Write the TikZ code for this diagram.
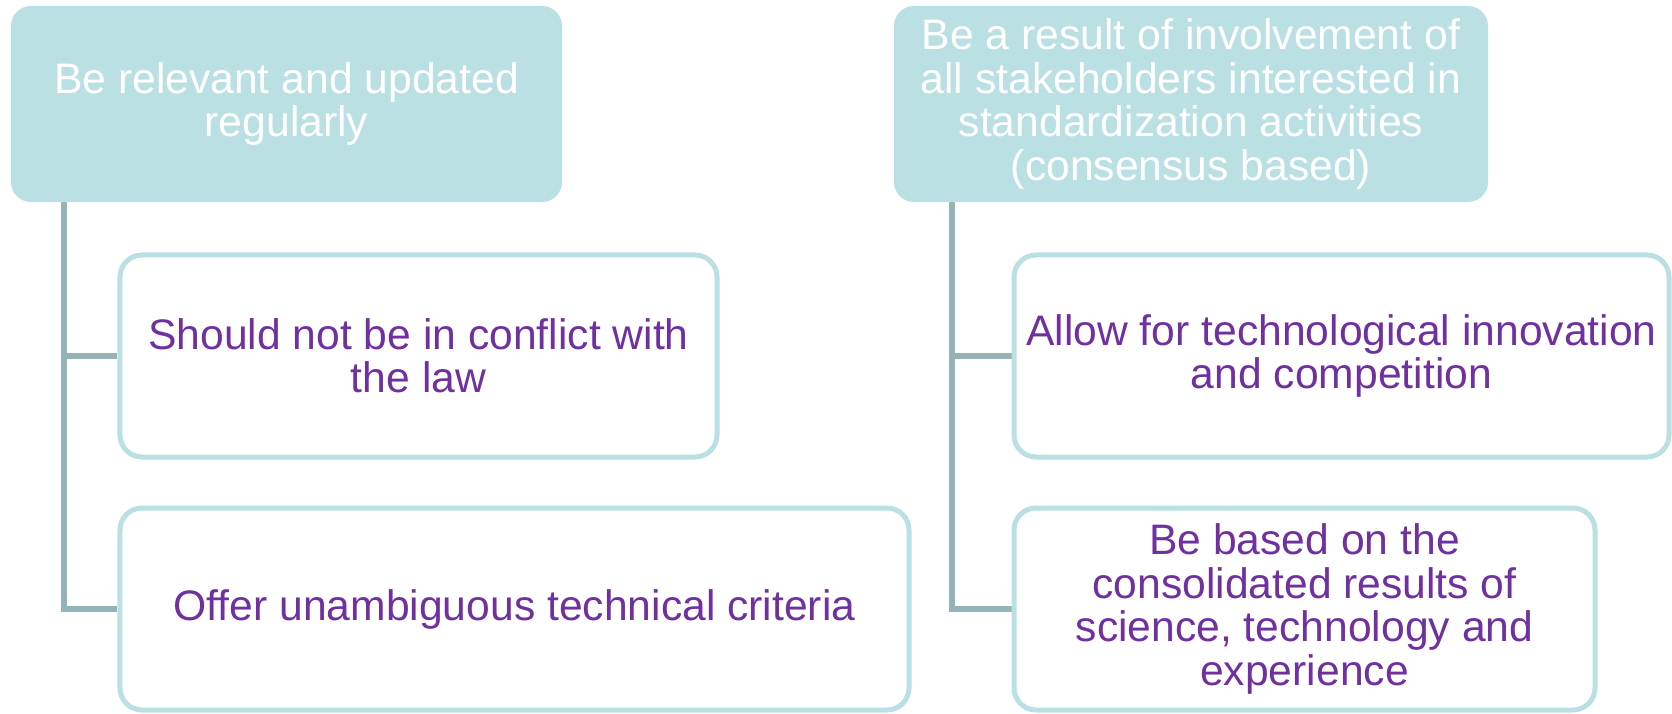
\documentclass[tikz,border=0pt]{standalone}
\usepackage{fontspec}
\setmainfont{Liberation Sans}
\usetikzlibrary{backgrounds}
\definecolor{topfill}{HTML}{BBE0E3}
\definecolor{childline}{HTML}{BBE0E3}
\definecolor{conncol}{HTML}{93B3B6}
\definecolor{txtpurple}{HTML}{7030A0}
\begin{document}
\begin{tikzpicture}[x=0.5bp,y=-0.5bp,
  boxfont/.style={font=\fontsize{21.4}{21.8}\selectfont},
  topbox/.style={rectangle, rounded corners=10bp, fill=topfill, draw=none,
    text=white, align=center, inner sep=0pt, minimum height=98bp, boxfont},
  childbox/.style={rectangle, rounded corners=11bp, draw=childline, line width=2.5bp,
    fill=white, text=txtpurple, align=center, inner sep=0pt, minimum height=101bp, boxfont},
  conn/.style={draw=conncol, line width=3bp}]
\useasboundingbox (0,0) rectangle (1672,714);

\node[topbox, minimum width=275.5bp] (t1) at (286.5,104) {Be relevant and updated\\regularly};
\node[topbox, minimum width=297bp] (t2) at (1191,104) {Be a result of involvement of\\all stakeholders interested in\\standardization activities\\(consensus based)};

\node[childbox, minimum width=298.5bp] (a1) at (418.5,356) {Should not be in conflict with\\the law};
\node[childbox, minimum width=394.5bp] (a2) at (514.5,609) {Offer unambiguous technical criteria};
\node[childbox, minimum width=327.5bp] (b1) at (1341.5,356) {Allow for technological innovation\\and competition};
\node[childbox, minimum width=290.5bp] (b2) at (1304.5,609) {Be based on the\\consolidated results of\\science, technology and\\experience};

\begin{scope}[on background layer]
\draw[conn] ([xshift=26.5bp]t1.south west) |- (a1.west);
\draw[conn] ([xshift=26.5bp]t1.south west) |- (a2.west);
\draw[conn] ([xshift=29bp]t2.south west) |- (b1.west);
\draw[conn] ([xshift=29bp]t2.south west) |- (b2.west);
\end{scope}
\end{tikzpicture}
\end{document}
